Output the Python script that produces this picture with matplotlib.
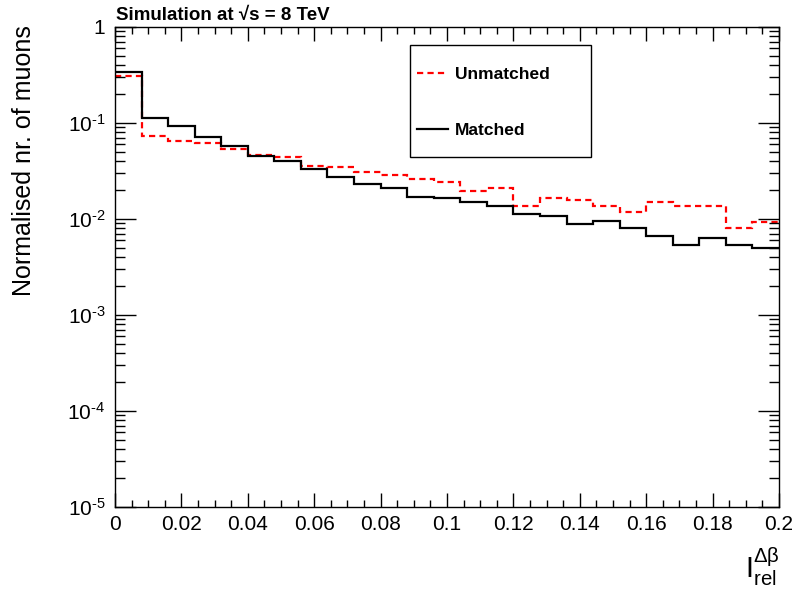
"""
Relative isolation (delta-beta corrected) of matched vs unmatched muons
"""
import numpy as np
import matplotlib
matplotlib.use('Agg')
import matplotlib.pyplot as plt
from matplotlib.patches import Rectangle
from matplotlib.ticker import FixedLocator, FixedFormatter, MultipleLocator, LogLocator, NullFormatter

plt.rcParams['font.family'] = ['Liberation Sans', 'DejaVu Sans']
plt.rcParams['mathtext.fontset'] = 'custom'
plt.rcParams['mathtext.rm'] = 'Liberation Sans'
plt.rcParams['mathtext.it'] = 'Liberation Sans:italic'
plt.rcParams['mathtext.bf'] = 'Liberation Sans:bold'
plt.rcParams['mathtext.default'] = 'regular'

# 25 bins between 0 and 0.2
bin_edges = np.linspace(0.0, 0.2, 26)

matched = [0.343, 0.113, 0.0922, 0.071, 0.0577, 0.0457, 0.040, 0.033, 0.0277,
           0.0232, 0.0209, 0.0170, 0.0166, 0.0150, 0.0138, 0.0114, 0.0107,
           0.00885, 0.0095, 0.00805, 0.0067, 0.00536, 0.00634, 0.0054, 0.00499]
unmatched = [0.31, 0.0726, 0.0655, 0.062, 0.054, 0.0469, 0.0447, 0.036, 0.0352,
             0.031, 0.0284, 0.0258, 0.0240, 0.0194, 0.0208, 0.0135, 0.0164,
             0.0159, 0.0137, 0.0119, 0.0150, 0.0136, 0.0136, 0.0080, 0.0093]

x_ticks = [0, 0.02, 0.04, 0.06, 0.08, 0.1, 0.12, 0.14, 0.16, 0.18, 0.2]
x_tick_labels = ['0', '0.02', '0.04', '0.06', '0.08', '0.1', '0.12', '0.14',
                 '0.16', '0.18', '0.2']
y_ticks = [1e-5, 1e-4, 1e-3, 1e-2, 1e-1, 1]
y_tick_labels = [r'$10^{\text{-5}}$', r'$10^{\text{-4}}$', r'$10^{\text{-3}}$',
                 r'$10^{\text{-2}}$', r'$10^{\text{-1}}$', '1']

W, H = 796, 590
fig = plt.figure(figsize=(W / 100, H / 100), dpi=100)
ax = fig.add_axes([115 / W, 1 - 507 / H, (779 - 115) / W, (507 - 27) / H])

ax.stairs(unmatched, bin_edges, baseline=None, color='red', linewidth=1.6,
          linestyle=(0, (2.8, 1.9)), label='Unmatched')
ax.stairs(matched, bin_edges, baseline=None, color='black', linewidth=1.6,
          label='Matched')

ax.set_yscale('log')
ax.set_xlim(0, 0.2)
ax.set_ylim(1e-5, 1)

ax.xaxis.set_major_locator(FixedLocator(x_ticks))
ax.xaxis.set_major_formatter(FixedFormatter(x_tick_labels))
ax.xaxis.set_minor_locator(MultipleLocator(0.005))
ax.yaxis.set_major_locator(FixedLocator(y_ticks))
ax.yaxis.set_major_formatter(FixedFormatter(y_tick_labels))
ax.yaxis.set_minor_locator(LogLocator(base=10, subs=np.arange(2, 10)))
ax.yaxis.set_minor_formatter(NullFormatter())

ax.tick_params(which='both', direction='in', top=True, right=True, width=1.0,
               labelsize=15, colors='black')
ax.tick_params(axis='x', which='major', length=10, pad=6)
ax.tick_params(axis='x', which='minor', length=5)
ax.tick_params(axis='y', which='major', length=15, pad=7)
ax.tick_params(axis='y', which='minor', length=7.5)
for sp in ax.spines.values():
    sp.set_linewidth(1.0)

# axis titles
fig.text(24 / W, 1 - 25 / H, 'Normalised nr. of muons', rotation=90,
         ha='center', va='top', fontsize=18)
fig.text(780 / W, 1 - 578 / H, r'$I_{rel}^{\Delta\beta}$', ha='right',
         va='baseline', fontsize=21)
fig.text(116 / W, 1 - 20.5 / H, 'Simulation at \u221as = 8 TeV',
         ha='left', va='baseline', fontsize=13.5, fontweight='bold')

# legend: entries from the axes handles, box drawn around them
leg = ax.legend(loc='upper left', bbox_to_anchor=(417 / W, 1 - 67 / H),
                bbox_transform=fig.transFigure, frameon=False, borderpad=0,
                borderaxespad=0, handlelength=1.8, handletextpad=0.4,
                labelspacing=2.32, prop={'weight': 'bold', 'size': 12.5})
fig.patches.append(Rectangle((410 / W, 1 - 157 / H), 181 / W, 112 / H,
                             transform=fig.transFigure, facecolor='none',
                             edgecolor='black', linewidth=1.0))

plt.savefig('out.png', dpi=100)
